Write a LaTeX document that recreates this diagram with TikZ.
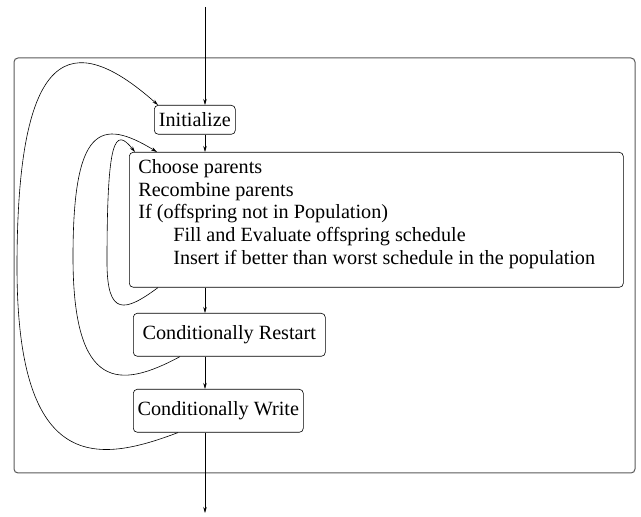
\documentclass[tikz,border=0pt]{standalone}
\usepackage{fontspec}
\setmainfont{Liberation Serif}
\usepackage{tikz}
\usetikzlibrary{arrows.meta}

\begin{document}
\begin{tikzpicture}[x=1pt, y=1pt,
    font=\fontsize{20.2}{22.7}\selectfont,
    stage/.style={draw, rounded corners=4pt, anchor=north west,
      inner sep=0pt, line width=0.6pt},
    flow/.style={line width=0.6pt, -{Stealth[length=6pt, width=3.5pt]}}]
  \useasboundingbox (0,0) rectangle (641,517);

  % frame of the loop
  \draw[gray!70!black, line width=1pt, rounded corners=4pt]
    (14,44) rectangle (635,459);

  % stages
  \node[stage, minimum width=81, minimum height=29] (init) at (154,412)
    {Initialize};
  \node[stage, inner xsep=9pt, inner ysep=7pt] (breed) at (129,365)
    {\begin{minipage}[t][121pt][t]{476pt}
      Choose parents\\
      Recombine parents\\
      If (offspring not in Population)\\
      \hspace*{35pt}Fill and Evaluate offspring schedule\\
      \hspace*{35pt}Insert if better than worst schedule in the population
    \end{minipage}};
  \node[stage, minimum width=192, minimum height=43] (restart) at (133,204)
    {Conditionally Restart};
  \node[stage, minimum width=170, minimum height=43] (write) at (133,128)
    {Conditionally Write};

  % main line
  \coordinate (in) at (205,510);
  \coordinate (out) at (205,4);
  \draw[flow] (in) -- (in |- init.north);
  \draw[flow] (init.south -| in) -- (breed.north -| in);
  \draw[flow] (breed.south -| in) -- (restart.north -| in);
  \draw[flow] (restart.south -| in) -- (write.north -| in);
  \draw[flow] (write.south -| in) -- (out);

  % loops back
  \draw[flow] ([xshift=29pt]breed.south west)
    .. controls (125,205) and (107,200) .. (107,255)
    .. controls (107,380) and (115,390) .. ([xshift=6pt]breed.north west);
  \draw[flow] ([xshift=47pt]restart.south west)
    .. controls (120,128) and (73,125) .. (73,260)
    .. controls (73,390) and (100,400) .. ([xshift=28pt]breed.north west);
  \draw[flow] ([xshift=45pt]write.south west)
    .. controls (100,55) and (17,40) .. (17,250)
    .. controls (17,470) and (70,490) .. ([xshift=4pt]init.north west);
\end{tikzpicture}
\end{document}
